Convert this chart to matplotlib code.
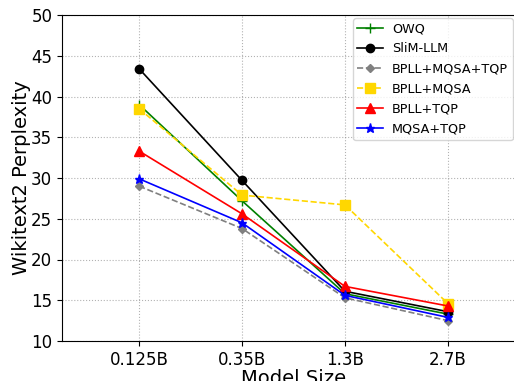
import matplotlib
matplotlib.use("Agg")
import matplotlib.pyplot as plt

categories = ["0.125B", "0.35B", "1.3B", "2.7B"]
owq = [39.0, 27.2, 15.8, 13.3]
slim = [43.4, 29.7, 16.1, 13.6]
bpll_mqsa_tqp = [29.0, 23.8, 15.3, 12.5]
bpll_mqsa = [38.5, 27.9, 26.7, 14.6]
bpll_tqp = [33.3, 25.6, 16.7, 14.3]
mqsa_tqp = [29.9, 24.5, 15.6, 12.9]
yticks = [10, 15, 20, 25, 30, 35, 40, 45, 50]

fig = plt.figure(figsize=(5.14, 3.81), dpi=100)
ax = fig.add_axes([62/514, 40/381, 463/514, 326/381])
x = list(range(len(categories)))

ax.plot(x, owq, color="green", marker="+", markersize=7, lw=1.2, label="OWQ")
ax.plot(x, slim, color="black", marker="o", markersize=6, lw=1.2, label="SliM-LLM")
ax.plot(x, bpll_mqsa_tqp, color="gray", marker="D", markersize=4.5, lw=1.2, ls="--", label="BPLL+MQSA+TQP")
ax.plot(x, bpll_mqsa, color="gold", marker="s", markersize=6.5, lw=1.2, ls="--", label="BPLL+MQSA")
ax.plot(x, bpll_tqp, color="red", marker="^", markersize=6.5, lw=1.2, label="BPLL+TQP")
ax.plot(x, mqsa_tqp, color="blue", marker="*", markersize=6.5, lw=1.2, label="MQSA+TQP")

ax.set_xlim(-0.75, 3.75)
ax.set_ylim(10, 50)
ax.set_xticks(x)
ax.set_xticklabels(categories, fontsize=12)
ax.set_yticks(yticks)
ax.tick_params(axis="y", labelsize=12)
ax.set_xlabel("Model Size", fontsize=14, labelpad=0)
ax.set_ylabel("Wikitext2 Perplexity", fontsize=14, labelpad=0)
ax.grid(True, linestyle=":", color="gray", alpha=0.6)
ax.legend(loc="upper left", bbox_to_anchor=(353/514, 1 - 18/381), bbox_transform=fig.transFigure,
          fontsize=9.2, borderaxespad=0, labelspacing=0.55, borderpad=0.35, handletextpad=0.7)
fig.savefig("out.png", dpi=100)
